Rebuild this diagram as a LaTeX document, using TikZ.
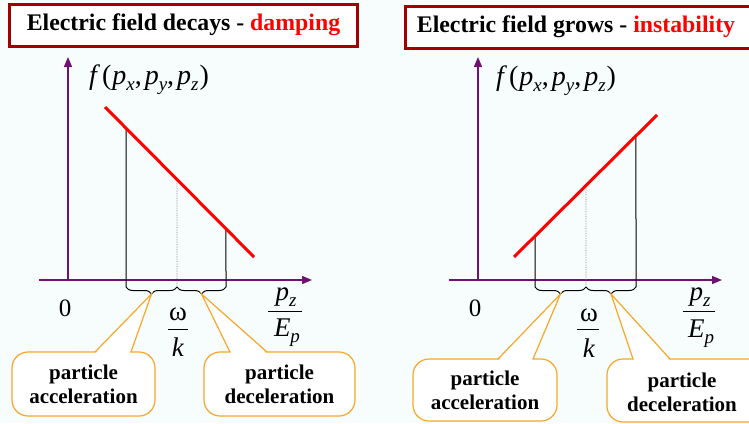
\documentclass[tikz,border=0pt]{standalone}
\usepackage{fontspec}
\setmainfont{Liberation Serif}
\usetikzlibrary{arrows.meta,decorations.pathreplacing}
\definecolor{bg}{RGB}{247,252,252}
\definecolor{titleborder}{RGB}{160,0,0}
\definecolor{axispurple}{RGB}{112,16,112}
\definecolor{calloutorange}{RGB}{247,168,40}
\definecolor{dotgray}{RGB}{130,130,130}
\tikzset{
  titlebox/.style={draw=titleborder, line width=3pt, fill=white},
  titletext/.style={font=\fontsize{23.8}{28}\selectfont\bfseries, inner sep=0pt},
  axis/.style={draw=axispurple, line width=1.4pt, -{Triangle[length=10pt,width=8pt]}},
  redline/.style={draw=red, line width=3pt},
  vline/.style={draw=black, line width=1pt},
  dline/.style={draw=dotgray, line width=0.7pt, densely dotted},
  bracedraw/.style={draw=black, line width=1pt, decorate, decoration={brace, mirror, amplitude=7pt}},
  calloutbox/.style={draw=calloutorange, line width=1.2pt, fill=white, rounded corners=16pt,
     inner sep=0pt, font=\fontsize{21}{24}\selectfont\bfseries, align=center},
  pointer/.style={draw=calloutorange, line width=1.2pt, line join=miter},
  pointerfill/.style={fill=white},
  callouttext/.style={font=\fontsize{21}{24}\selectfont\bfseries, align=center, inner sep=0pt},
  mathtext/.style={font=\fontsize{28}{32}\selectfont, inner sep=0pt},
  fractext/.style={font=\fontsize{27}{30}\selectfont, inner sep=0pt},
  fracbar/.style={draw=black, line width=0.9pt},
}
\newcommand\mysub[1]{\raisebox{-6pt}{\fontsize{19}{19}\selectfont\textit{#1}}}
\newcommand\fpxyz{\textit{f}\kern2pt(\kern1pt\textit{p}\mysub{x},\kern3pt\textit{p}\mysub{y},\kern3pt\textit{p}\mysub{z}\kern1pt)}
\begin{document}
\begin{tikzpicture}[x=1pt,y=-1pt]
\path[use as bounding box] (0,0) rectangle (749,423);
\clip (0,0) rectangle (749,423);
\fill[bg] (0,0) rectangle (749,423);

% ================= LEFT PANEL =================
\draw[titlebox] (9,4) rectangle (357,46);
\node[titletext] (titleL) at (183.5,25) {Electric field decays - \textcolor{red}{damping}};

\coordinate (oL) at (68,280);
\coordinate (yTopL) at (68,57);
\coordinate (xStartL) at (39,280);
\coordinate (xEndL) at (312,280);
\draw[axis] (oL) -- (yTopL);
\draw[axis] (xStartL) -- (xEndL);

\node[mathtext] (fL) at (149,80) {\fpxyz};

\coordinate (redAL) at (105,107);
\coordinate (redBL) at (254,257);
\path (redAL) -- (redBL)
  coordinate[pos=0.141] (p1L)
  coordinate[pos=0.483] (p2L)
  coordinate[pos=0.812] (p3L);
\coordinate (b1L) at (126,287);
\coordinate (b2L) at (177,287);
\coordinate (b3L) at (226,287);
\draw[vline] (p1L) -- (b1L);
\draw[dline] (p2L) -- (b2L);
\draw[vline] (p3L) -- (b3L);
\draw[redline] (redAL) -- (redBL);
\draw[bracedraw] (b1L) -- (b2L);
\draw[bracedraw] (b2L) -- (b3L);
\coordinate (tipAL) at (151.5,294);
\coordinate (tipDL) at (201.5,294);

\node[font=\fontsize{25}{28}\selectfont, inner sep=0pt] (zeroL) at (65,308) {0};

\node[fractext] (omegaL) at (178,314) {ω};
\draw[fracbar] (168,329) -- (188,329);
\node[fractext] (kL) at (178,347) {\textit{k}};

\node[fractext] (pzL) at (286,297) {\textit{p}\mysub{z}};
\draw[fracbar] (268,311) -- (302,311);
\node[fractext] (EpL) at (287,333) {\textit{E}\mysub{p}};

% callouts
\node[calloutbox, minimum width=143pt, minimum height=64pt] (accL) at (83.5,384) {particle\\acceleration};
\fill[pointerfill] (96,353) -- (tipAL) -- (130,353) -- cycle;
\draw[pointer] (95,352) -- (tipAL) -- (131,352);

\node[calloutbox, minimum width=151pt, minimum height=64pt] (decL) at (279.5,384) {particle\\deceleration};
\fill[pointerfill] (231,353) -- (tipDL) -- (266,353) -- cycle;
\draw[pointer] (230,352) -- (tipDL) -- (267,352);

% ================= RIGHT PANEL =================
\draw[titlebox] (405,6) rectangle (770,48);
\node[titletext] (titleR) at (576,27) {Electric field grows - \textcolor{red}{instability}};

\coordinate (oR) at (478,280);
\coordinate (yTopR) at (478,57);
\coordinate (xStartR) at (449,280);
\coordinate (xEndR) at (722,280);
\draw[axis] (oR) -- (yTopR);
\draw[axis] (xStartR) -- (xEndR);

\node[mathtext] (fR) at (556,81) {\fpxyz};

\coordinate (redAR) at (514,257);
\coordinate (redBR) at (657,115);
\path (redAR) -- (redBR)
  coordinate[pos=0.147] (p1R)
  coordinate[pos=0.503] (p2R)
  coordinate[pos=0.853] (p3R);
\coordinate (b1R) at (535,287);
\coordinate (b2R) at (586,287);
\coordinate (b3R) at (636,287);
\draw[vline] (p1R) -- (b1R);
\draw[dline] (p2R) -- (b2R);
\draw[vline] (p3R) -- (b3R);
\draw[redline] (redAR) -- (redBR);
\draw[bracedraw] (b1R) -- (b2R);
\draw[bracedraw] (b2R) -- (b3R);
\coordinate (tipAR) at (560.5,294);
\coordinate (tipDR) at (611,294);

\node[font=\fontsize{25}{28}\selectfont, inner sep=0pt] (zeroR) at (475,308) {0};

\node[fractext] (omegaR) at (589,315) {ω};
\draw[fracbar] (577,329) -- (599,329);
\node[fractext] (kR) at (589,348) {\textit{k}};

\node[fractext] (pzR) at (700,297) {\textit{p}\mysub{z}};
\draw[fracbar] (683,311) -- (715,311);
\node[fractext] (EpR) at (701,334) {\textit{E}\mysub{p}};

\node[calloutbox, minimum width=144pt, minimum height=62pt] (accR) at (485,390) {particle\\acceleration};
\fill[pointerfill] (499,360) -- (tipAR) -- (532,360) -- cycle;
\draw[pointer] (498,359) -- (tipAR) -- (533,359);

\node[calloutbox, minimum width=163pt, minimum height=63pt] (decBoxR) at (688.5,390.5) {};
\node[callouttext] (decR) at (682,392) {particle\\deceleration};
\fill[pointerfill] (634,360) -- (tipDR) -- (669,360) -- cycle;
\draw[pointer] (633,359) -- (tipDR) -- (670,359);
\end{tikzpicture}
\end{document}
